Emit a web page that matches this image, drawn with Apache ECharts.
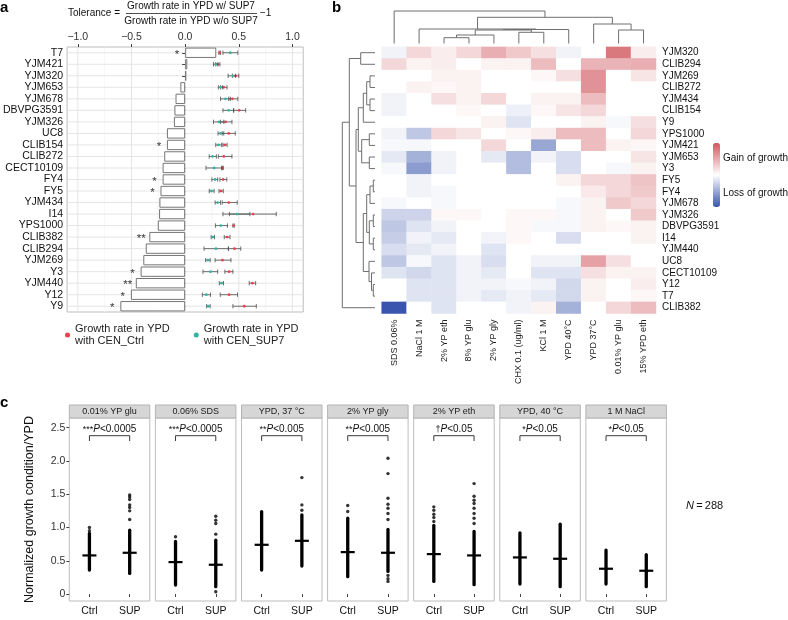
<!DOCTYPE html>
<html><head><meta charset="utf-8">
<script src="https://cdn.jsdelivr.net/npm/echarts@6/dist/echarts.min.js"></script>
<style>html,body{margin:0;padding:0;background:#fff}#c{width:788px;height:620px}</style>
</head><body><div id="c"></div>
<script>
// ---------- Panel a data ----------
const strainsA = ['T7','YJM421','YJM320','YJM653','YJM678','DBVPG3591','YJM326','UC8','CLIB154','CLIB272','CECT10109','FY4','FY5','YJM434','I14','YPS1000','CLIB382','CLIB294','YJM269','Y3','YJM440','Y12','Y9'];
const tolerance = [0.29,0.02,0.01,-0.045,-0.09,-0.1,-0.105,-0.17,-0.17,-0.195,-0.21,-0.21,-0.23,-0.24,-0.243,-0.255,-0.334,-0.367,-0.39,-0.415,-0.46,-0.506,-0.604];
const signif = ['*','','','','','','','','*','','','*','*','','','','**','','','*','**','*','*'];
const ctrlMean = [0.321,0.303,0.47,0.36,0.44,0.503,0.376,0.406,0.37,0.36,0.35,0.354,0.333,0.406,0.633,0.451,0.391,0.46,0.348,0.409,0.627,0.409,0.551];
const ctrlLow  = [0.315,0.285,0.44,0.33,0.406,0.452,0.33,0.345,0.352,0.309,0.339,0.324,0.315,0.345,0.412,0.445,0.364,0.403,0.279,0.37,0.597,0.327,0.445];
const ctrlHigh = [0.33,0.324,0.50,0.39,0.491,0.564,0.436,0.467,0.391,0.436,0.355,0.388,0.355,0.485,0.849,0.458,0.418,0.518,0.427,0.445,0.657,0.488,0.663];
const supMean  = [0.421,0.285,0.445,0.33,0.376,0.406,0.315,0.33,0.31,0.255,0.27,0.279,0.245,0.303,0.482,0.333,0.257,0.287,0.212,0.236,0.339,0.197,0.215];
const supLow   = [0.352,0.264,0.40,0.309,0.33,0.352,0.264,0.306,0.285,0.224,0.194,0.249,0.224,0.279,0.352,0.282,0.242,0.176,0.191,0.166,0.318,0.16,0.2];
const supHigh  = [0.491,0.306,0.47,0.35,0.421,0.452,0.36,0.36,0.34,0.291,0.345,0.303,0.27,0.33,0.603,0.394,0.273,0.403,0.233,0.303,0.357,0.236,0.233];
const tickA = [-1,-0.5,0,0.5,1];
const gridValsA = [-1,-0.75,-0.5,-0.25,0,0.25,0.5,0.75,1];

// ---------- Panel b data ----------
const conditions = ['SDS 0.06%','NaCl 1 M','2% YP eth','8% YP glu','2% YP gly','CHX 0.1 (ug/ml)','KCl 1 M','YPD 40°C','YPD 37°C','0.01% YP glu','15% YPD eth'];
const strainsB = ['YJM320','CLIB294','YJM269','CLIB272','YJM434','CLIB154','Y9','YPS1000','YJM421','YJM653','Y3','FY5','FY4','YJM678','YJM326','DBVPG3591','I14','YJM440','UC8','CECT10109','Y12','T7','CLIB382'];
const heatValues = [
 [-0.07,0.24,0.11,0.24,0.48,0.32,0.19,-0.07,0,0.8,0.11],
 [0.24,0.08,0.11,0,0.08,0.08,0.4,0,0.45,0.45,0.48],
 [0,0,0.08,0.08,0,0,0.05,0.19,0.65,0,0.16],
 [0,0.08,0.05,0.08,0,0,0,0,0.65,0,0],
 [-0.07,0,0.19,0.08,0.24,0,0.08,0.08,0.4,0,0],
 [-0.07,0,0,0.05,0,-0.09,0.05,0.16,0.24,0,0],
 [0,0,0,0,0.08,-0.16,0,0,0.08,-0.04,0.19],
 [-0.07,-0.33,0.24,0.16,0,0.05,0.11,0.4,0.4,0,0.24],
 [-0.04,-0.04,0,0,0.24,0,-0.52,0,0.4,0.08,0.05],
 [-0.13,-0.46,-0.07,0,-0.13,-0.39,-0.07,-0.2,0,0,0.16],
 [-0.04,-0.58,-0.07,0,0,-0.39,0,-0.2,0,-0.04,0.08],
 [0,-0.07,0,0,0,0,0,0.08,0.24,0.24,0.35],
 [0,-0.07,-0.04,0,0,0,0,0,0.13,0.24,0.32],
 [-0.04,0,-0.04,0,0,0,0,-0.04,0.08,0.32,0.24],
 [-0.26,-0.26,0.05,0.05,0,0.05,0.05,-0.04,0.08,0,0.32],
 [-0.33,-0.16,-0.07,0,0,0.05,-0.04,-0.04,0.08,0.05,0.08],
 [-0.29,-0.07,-0.13,0,-0.07,0.05,0,-0.2,0,0,0.08],
 [-0.2,-0.13,-0.07,0,-0.16,0,0,0,0,0,0],
 [-0.33,-0.04,-0.16,-0.07,-0.2,0,-0.07,-0.07,0.56,0.19,0],
 [-0.16,-0.23,-0.16,-0.07,-0.13,0,-0.16,-0.16,0.19,0.08,0.08],
 [0,-0.16,-0.16,-0.07,-0.07,-0.04,-0.07,-0.23,0.08,0,0.11],
 [0,-0.16,-0.16,-0.07,-0.13,-0.07,-0.13,-0.23,0.08,0,0.05],
 [-1,0,-0.16,0,0,-0.07,0.08,-0.46,0,0.24,0.4]
];
// dendrograms: hclust-style merges [a, b, height]; negative = leaf (-(index+1)), positive = merge number
const colMerges = [[-3,-4,5.8],[1,-5,8.5],[-6,-7,11.2],[2,3,13.5],[4,-8,14],[-2,5,14.5],[-10,-11,13.5],[-9,7,19.5],[6,8,26.2],[-1,9,32.5]];
const rowMerges = [[-3,-4,5],[-5,-6,5],[1,2,8.3],[3,-7,11.7],[-8,-9,5.7],[-10,-11,5.7],[5,6,13.3],[4,7,16.7],
 [-12,-13,1.7],[9,-14,5],[-15,-16,1.7],[-17,-18,1.7],[11,12,5.7],[10,13,8.3],[-21,-22,1.7],[-20,15,3.5],[-19,16,6],[14,17,11.7],
 [8,18,19],[-1,-2,14.3],[20,19,25.7],[21,-23,32.7]];

// ---------- Panel c data ----------
const facetNames = ['0.01% YP glu','0.06% SDS','YPD, 37 °C','2% YP gly','2% YP eth','YPD, 40 °C','1 M NaCl'];
const sigMarks = ['***','***','**','**','†','*','*'];
const pValues = ['0.0005','0.0005','0.005','0.005','0.05','0.05','0.05'];
const groups = ['Ctrl','SUP'];
const ctrlMedian = [0.58,0.48,0.74,0.63,0.60,0.55,0.38];
const supMedian  = [0.62,0.44,0.80,0.62,0.58,0.53,0.35];
const ctrlDenseLow  = [0.36,0.135,0.36,0.26,0.19,0.15,0.15];
const ctrlDenseHigh = [0.91,0.79,1.24,1.14,1.03,0.92,0.66];
const supDenseLow   = [0.31,0.11,0.42,0.34,0.14,0.11,0.11];
const supDenseHigh  = [0.96,0.81,1.19,0.97,0.94,1.05,0.59];
const ctrlOutliers = [[0.95,1.0],[0.86],[],[1.24,1.33],[1.09,1.15,1.2,1.26,1.31],[],[]];
const supOutliers  = [[1.12,1.25,1.30,1.34,1.42,1.46,1.49],[0.035,0.9,1.06,1.11,1.17],[1.26,1.34,1.75],[0.19,0.23,0.28,1.12,1.21,1.29,1.35,1.44,1.81,2.04],[1.06,1.14,1.21,1.29,1.36,1.41,1.47,1.66],[],[]];
const tickC = [0,0.5,1,1.5,2,2.5];
const nTotal = 288;

// ---------- layout ----------
const FONT = 'Liberation Sans, Arial, Helvetica, sans-serif';
const gA = {left:62.2, top:47, width:241, height:265};
const gB = {left:381.7, top:46.9, width:274.3, height:266.6};
const gRowD = {left:342.3, top:46.9, width:32.7, height:266.6};
const gColD = {left:381.7, top:11, width:274.3, height:32.5};
const facetLeft0 = 69.3, facetStep = 86.1, facetW = 80.5, facetTop = 418, facetH = 183;

function dendroSegments(merges) {
  const pos = [], hgt = [];
  const P = k => k < 0 ? (-k - 1) : pos[k-1];
  const H = k => k < 0 ? 0 : hgt[k-1];
  return merges.map(([a,b,h]) => {
    const seg = [[P(a),H(a)],[P(a),h],[P(b),h],[P(b),H(b)]];
    pos.push((P(a)+P(b))/2); hgt.push(h);
    return seg;
  });
}
const colSegs = dendroSegments(colMerges);
const rowSegs = dendroSegments(rowMerges);

const grids = [gA, gB, gRowD, gColD];
for (let i = 0; i < facetNames.length; i++) grids.push({left: facetLeft0 + facetStep*i, top: facetTop, width: facetW, height: facetH});
grids.forEach(g => { g.containLabel = false; });
grids[0].show = true; grids[0].borderColor = '#bdbdbd'; grids[0].borderWidth = 1;
for (let i = 4; i < grids.length; i++) { grids[i].show = true; grids[i].borderColor = '#bdbdbd'; grids[i].borderWidth = 1; }

const xAxes = [
  {gridIndex:0, type:'value', position:'top', min:-1.1, max:1.1, splitLine:{show:false}, axisLine:{show:false},
   axisTick:{show:true, length:3, lineStyle:{color:'#444'}, customValues:tickA},
   axisLabel:{customValues:tickA, fontSize:10.5, color:'#333', margin:4, formatter: v => (v < 0 ? '\u2212' : '') + Math.abs(v).toFixed(1)}},
  {gridIndex:1, type:'category', data:conditions, position:'bottom', axisLine:{show:false}, axisTick:{show:false}, splitLine:{show:false},
   axisLabel:{rotate:90, fontSize:9, color:'#222', margin:6, interval:0}},
  {gridIndex:2, type:'value', min:0, max:32.7, inverse:true, show:false},
  {gridIndex:3, type:'value', min:-0.5, max:10.5, show:false}
];
const yAxes = [
  {gridIndex:0, type:'category', data:strainsA, inverse:true, axisLine:{show:false},
   axisTick:{show:true, alignWithLabel:true, length:3, lineStyle:{color:'#444'}},
   axisLabel:{fontSize:10.5, color:'#111', margin:4, interval:0}, splitLine:{show:false}},
  {gridIndex:1, type:'category', data:strainsB, inverse:true, position:'right', axisLine:{show:false}, axisTick:{show:false},
   axisLabel:{fontSize:10, color:'#111', margin:6, interval:0}, splitLine:{show:false}},
  {gridIndex:2, type:'value', min:-0.5, max:22.5, inverse:true, show:false},
  {gridIndex:3, type:'value', min:0, max:32.5, show:false}
];
for (let i = 0; i < facetNames.length; i++) {
  xAxes.push({gridIndex:4+i, type:'category', data:groups, axisLine:{show:false},
    axisTick:{show:true, alignWithLabel:true, length:3, lineStyle:{color:'#444'}},
    axisLabel:{fontSize:10.5, color:'#111', margin:5}, splitLine:{show:false}});
  const y = {gridIndex:4+i, type:'value', min:-0.105, max:2.646, splitLine:{show:false}, axisLine:{show:false}};
  if (i === 0) {
    y.axisTick = {show:true, length:3, lineStyle:{color:'#444'}, customValues:tickC};
    y.axisLabel = {customValues:tickC, fontSize:10.5, color:'#333', margin:4, formatter: v => v === 0 ? '0' : v.toFixed(1)};
    y.name = 'Normalized growth condition/YPD'; y.nameLocation = 'middle'; y.nameGap = 33;
    y.nameTextStyle = {fontSize:12.5, color:'#111'};
  } else {
    y.axisTick = {show:false}; y.axisLabel = {show:false};
  }
  yAxes.push(y);
}

const series = [];
// panel a gridlines
series.push({type:'custom', xAxisIndex:0, yAxisIndex:0, silent:true, z:0,
  data: gridValsA.map(v => [v, 0]),
  renderItem: (params, api) => {
    const cs = params.coordSys; const v = gridValsA[params.dataIndex];
    const x = api.coord([v, 0])[0]; const major = Math.abs(v*2 - Math.round(v*2)) < 1e-6;
    return {type:'line', shape:{x1:x, y1:cs.y, x2:x, y2:cs.y+cs.height}, style:{stroke: major ? '#e2e2e2' : '#f0f0f0', lineWidth: major ? 0.9 : 0.6}};
  }});
series.push({type:'custom', xAxisIndex:0, yAxisIndex:0, silent:true, z:0,
  data: strainsA.map((s,i) => [0, i]),
  renderItem: (params, api) => {
    const cs = params.coordSys; const y = api.coord([0, params.dataIndex])[1];
    return {type:'line', shape:{x1:cs.x, y1:y, x2:cs.x+cs.width, y2:y}, style:{stroke:'#e2e2e2', lineWidth:0.9}};
  }});
series.push({type:'bar', xAxisIndex:0, yAxisIndex:0, data:tolerance, barWidth:'90%', silent:true, z:2,
  itemStyle:{color:'#ffffff', borderColor:'#767676', borderWidth:1}});
series.push({type:'scatter', xAxisIndex:0, yAxisIndex:0, symbolSize:0, silent:true, z:3,
  data: strainsA.map((s,i) => [Math.min(tolerance[i],0) - 0.075, i]).filter((d,i) => signif[i]),
  label:{show:true, position:'inside', fontSize:11.5, color:'#000', offset:[0,2], formatter: p => signif[p.value[1]]}});
function errRender(meanA, lowA, highA, color) {
  return (params, api) => {
    const i = params.dataIndex;
    const y = api.coord([0, i])[1];
    const xl = api.coord([lowA[i], i])[0], xh = api.coord([highA[i], i])[0], xm = api.coord([meanA[i], i])[0];
    const ls = {stroke:'#4d4d4d', lineWidth:0.8};
    return {type:'group', children:[
      {type:'line', shape:{x1:xl,y1:y,x2:xh,y2:y}, style:ls},
      {type:'line', shape:{x1:xl,y1:y-2.2,x2:xl,y2:y+2.2}, style:ls},
      {type:'line', shape:{x1:xh,y1:y-2.2,x2:xh,y2:y+2.2}, style:ls},
      {type:'circle', shape:{cx:xm,cy:y,r:1.4}, style:{fill:color}}
    ]};
  };
}
const RED = '#e8414f', TEAL = '#35b3a1';
series.push({type:'custom', name:'Growth rate in YPD with CEN_Ctrl', xAxisIndex:0, yAxisIndex:0, z:4, itemStyle:{color:RED},
  data: ctrlMean.map((v,i) => [v, i]), renderItem: errRender(ctrlMean, ctrlLow, ctrlHigh, RED)});
series.push({type:'custom', name:'Growth rate in YPD with CEN_SUP7', xAxisIndex:0, yAxisIndex:0, z:4, itemStyle:{color:TEAL},
  data: supMean.map((v,i) => [v, i]), renderItem: errRender(supMean, supLow, supHigh, TEAL)});

// panel b heatmap
const heatData = [];
heatValues.forEach((row, r) => row.forEach((v, c) => heatData.push([c, r, v])));
const heatSeriesIndex = series.length;
series.push({type:'heatmap', xAxisIndex:1, yAxisIndex:1, data:heatData, silent:true, itemStyle:{borderWidth:0}, emphasis:{disabled:true}});
// dendrograms
series.push({type:'custom', xAxisIndex:2, yAxisIndex:2, silent:true, data: rowSegs.map((s,i) => [0, i]),
  renderItem: (params, api) => ({type:'polyline', shape:{points: rowSegs[params.dataIndex].map(([p,h]) => api.coord([h, p]))}, style:{stroke:'#6e6e6e', lineWidth:1, fill:null}})});
series.push({type:'custom', xAxisIndex:3, yAxisIndex:3, silent:true, data: colSegs.map((s,i) => [i, 0]),
  renderItem: (params, api) => ({type:'polyline', shape:{points: colSegs[params.dataIndex].map(([p,h]) => api.coord([p, h]))}, style:{stroke:'#6e6e6e', lineWidth:1, fill:null}})});

// panel c facets
for (let i = 0; i < facetNames.length; i++) {
  const lo = [ctrlDenseLow[i], supDenseLow[i]], hi = [ctrlDenseHigh[i], supDenseHigh[i]], med = [ctrlMedian[i], supMedian[i]];
  series.push({type:'custom', xAxisIndex:4+i, yAxisIndex:4+i, silent:true, z:3, data: [[0, med[0]], [1, med[1]]],
    renderItem: (params, api) => {
      const g = params.dataIndex;
      const a = api.coord([g, lo[g]]), b = api.coord([g, hi[g]]), m = api.coord([g, med[g]]);
      return {type:'group', children:[
        {type:'line', shape:{x1:a[0],y1:a[1],x2:b[0],y2:b[1]}, style:{stroke:'#000', lineWidth:3.3, lineCap:'round'}},
        {type:'line', shape:{x1:m[0]-7,y1:m[1],x2:m[0]+7,y2:m[1]}, style:{stroke:'#000', lineWidth:2.2}}
      ]};
    }});
  series.push({type:'scatter', xAxisIndex:4+i, yAxisIndex:4+i, silent:true, symbolSize:3.4, itemStyle:{color:'#000'},
    data: ctrlOutliers[i].map(v => [0, v]).concat(supOutliers[i].map(v => [1, v]))});
  series.push({type:'custom', xAxisIndex:4+i, yAxisIndex:4+i, silent:true, data:[[0, 2.38]],
    renderItem: (params, api) => {
      const a = api.coord([0, 2.38]), b = api.coord([1, 2.38]), t = api.coord([0, 2.30]), tx = api.coord([0, 2.47]);
      const ls = {stroke:'#222', lineWidth:0.9, fill:null};
      return {type:'group', children:[
        {type:'polyline', shape:{points:[[a[0],t[1]],[a[0],a[1]],[b[0],b[1]],[b[0],t[1]]]}, style:ls},
        {type:'text', x:(a[0]+b[0])/2, y:tx[1], style:{text:'{s|' + sigMarks[i] + '}{i|P}{n|<' + pValues[i] + '}', align:'center', verticalAlign:'middle',
          rich:{s:{fontSize:9, fontFamily:FONT, fill:'#111'}, i:{fontSize:10, fontStyle:'italic', fontFamily:FONT, fill:'#111'}, n:{fontSize:10, fontFamily:FONT, fill:'#111'}}}}
      ]};
    }});
}

const graphic = [
  {type:'text', x:0, y:8, style:{text:'a', font:'bold 15px ' + FONT, fill:'#000', verticalAlign:'middle'}},
  {type:'text', x:332, y:8, style:{text:'b', font:'bold 15px ' + FONT, fill:'#000', verticalAlign:'middle'}},
  {type:'text', x:0, y:403, style:{text:'c', font:'bold 15px ' + FONT, fill:'#000', verticalAlign:'middle'}},
  {type:'text', x:68, y:13.5, style:{text:'Tolerance =', font:'10px ' + FONT, fill:'#111', verticalAlign:'middle'}},
  {type:'text', x:191, y:6, style:{text:'Growth rate in YPD w/ SUP7', font:'10px ' + FONT, fill:'#111', align:'center', verticalAlign:'middle'}},
  {type:'line', shape:{x1:126, y1:13.5, x2:257, y2:13.5}, style:{stroke:'#222', lineWidth:0.8}},
  {type:'text', x:191, y:21, style:{text:'Growth rate in YPD w/o SUP7', font:'10px ' + FONT, fill:'#111', align:'center', verticalAlign:'middle'}},
  {type:'text', x:260, y:13.5, style:{text:'\u22121', font:'10px ' + FONT, fill:'#111', verticalAlign:'middle'}},
  {type:'text', x:723, y:158, style:{text:'Gain of growth', font:'10px ' + FONT, fill:'#111', verticalAlign:'middle'}},
  {type:'text', x:723, y:193, style:{text:'Loss of growth', font:'10px ' + FONT, fill:'#111', verticalAlign:'middle'}},
  {type:'text', x:686, y:506, style:{text:'{i|N}{n|\u2009=\u2009' + nTotal + '}', verticalAlign:'middle',
    rich:{i:{fontSize:11, fontStyle:'italic', fontFamily:FONT, fill:'#111'}, n:{fontSize:11, fontFamily:FONT, fill:'#111'}}}}
];
for (let i = 0; i < facetNames.length; i++) {
  const x = facetLeft0 + facetStep*i;
  graphic.push({type:'rect', shape:{x:x, y:405, width:facetW, height:13}, style:{fill:'#d6d6d6', stroke:'#b3b3b3', lineWidth:1}});
  graphic.push({type:'text', x:x + facetW/2, y:411.5, style:{text:facetNames[i], font:'9px ' + FONT, fill:'#1a1a1a', align:'center', verticalAlign:'middle'}});
}

const option = {
  animation:false,
  textStyle:{fontFamily:FONT},
  grid:grids, xAxis:xAxes, yAxis:yAxes,
  visualMap:{type:'continuous', seriesIndex:heatSeriesIndex, min:-1, max:1, calculable:false, hoverLink:false,
    left:713, top:143, itemWidth:7, itemHeight:64, padding:0, text:null,
    inRange:{color:['#3a55ad','#ffffff','#d0575e']}},
  legend:{left:65, top:323, padding:0, icon:'circle', itemWidth:5, itemHeight:5, itemGap:24,
    data:['Growth rate in YPD with CEN_Ctrl','Growth rate in YPD with CEN_SUP7'],
    formatter: n => n.replace(' with', '\nwith'), textStyle:{fontSize:11, lineHeight:12, color:'#222'}},
  series:series,
  graphic:graphic
};
const chart = echarts.init(document.getElementById('c'), null, {renderer:'canvas'});
chart.setOption(option);
</script>
</body></html>
